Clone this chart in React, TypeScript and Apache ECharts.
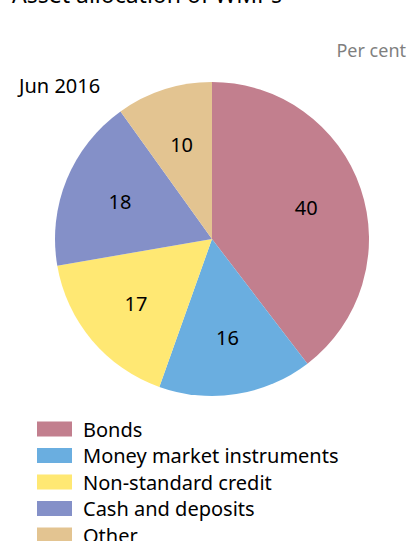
import React, { useEffect, useRef } from "react";
import * as echarts from "echarts";

const title = "Asset allocation of WMPs";
const unitLabel = "Per cent";
const periodLabel = "Jun 2016";
const categories = ["Bonds", "Money market instruments", "Non-standard credit", "Cash and deposits", "Other"];
const values = [40, 16, 17, 18, 10];
const colors = ["#C27F8E", "#6AAEE0", "#FFE873", "#8490C8", "#E3C491"];

const FONT = "'Noto Sans', 'Open Sans', sans-serif";

export default function App() {
  const ref = useRef<HTMLDivElement>(null);
  useEffect(() => {
    if (!ref.current) return;
    const chart = echarts.init(ref.current, null, { renderer: "svg" });
    const cx = 212;
    const cy = 239;
    chart.setOption({
      animation: false,
      textStyle: { fontFamily: FONT },
      graphic: [
        { type: "text", left: 12, top: -18, style: { text: title, fontSize: 23, fill: "#000", fontFamily: FONT } },
        { type: "text", right: 3, top: 41, style: { text: unitLabel, fontSize: 18, fill: "#7f7f7f", fontFamily: FONT } },
        { type: "text", left: 19, top: 75, style: { text: periodLabel, fontSize: 20, fill: "#000", fontFamily: FONT } },
      ],
      legend: {
        orient: "vertical",
        left: 32,
        top: 413,
        height: 200,
        itemWidth: 35,
        itemHeight: 15,
        itemGap: 4.5,
        icon: "rect",
        textStyle: { fontSize: 20, lineHeight: 22, color: "#000", fontFamily: FONT, padding: [0, 0, 0, 6] },
        data: categories,
        selectedMode: false,
      },
      series: [
        {
          type: "pie",
          center: [cx, cy],
          radius: 157,
          startAngle: 90,
          clockwise: true,
          silent: true,
          label: {
            show: true,
            position: "inside",
            formatter: "{c}",
            fontSize: 20,
            color: "#000",
            fontFamily: FONT,
          },
          labelLayout: (params: any) => {
            const r = params.labelRect;
            const lx = r.x + r.width / 2;
            const ly = r.y + r.height / 2;
            const k = 1.22;
            return { x: cx + (lx - cx) * k, y: cy + (ly - cy) * k, align: "center", verticalAlign: "middle" };
          },
          labelLine: { show: false },
          itemStyle: { borderWidth: 0 },
          data: categories.map((name, i) => ({ name, value: values[i], itemStyle: { color: colors[i] } })),
        },
      ],
    });
    return () => chart.dispose();
  }, []);
  return <div ref={ref} style={{ width: 409, height: 541, position: "absolute", left: 0, top: 0 }} />;
}
